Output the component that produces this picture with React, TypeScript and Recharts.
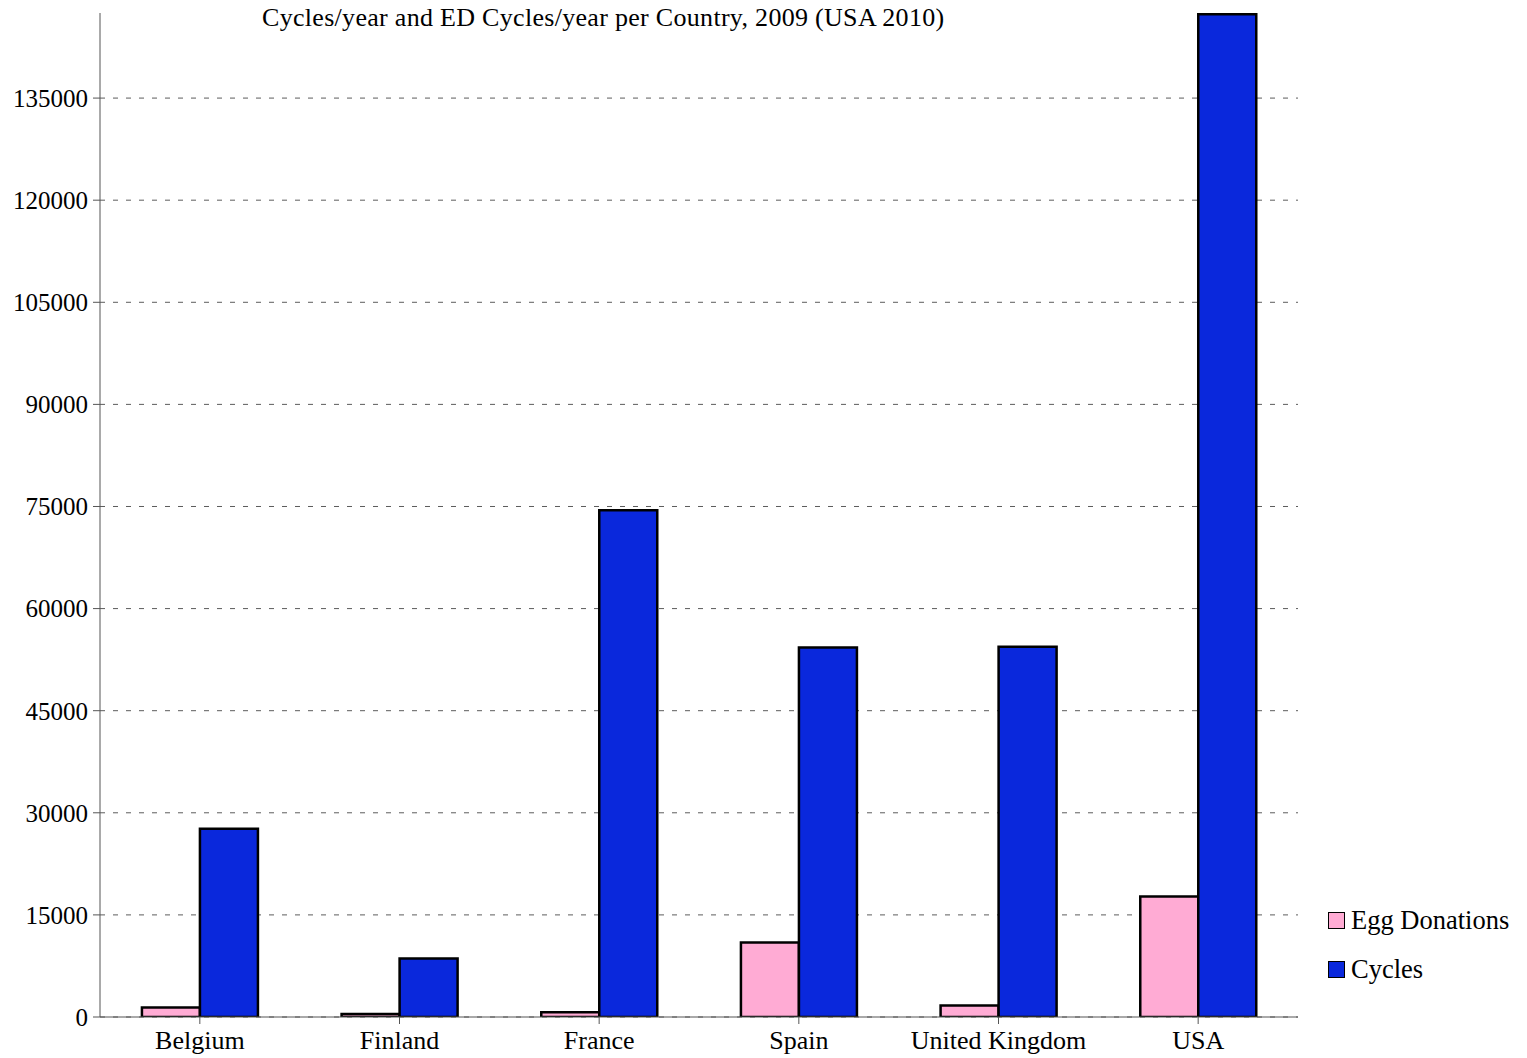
import { BarChart, Bar, XAxis, YAxis, CartesianGrid } from "recharts";

const countries = ["Belgium", "Finland", "France", "Spain", "United Kingdom", "USA"];
const eggDonations = [1400, 450, 700, 10950, 1700, 17700];
const cycles = [27650, 8600, 74450, 54300, 54400, 147300];
const yTicks = [0, 15000, 30000, 45000, 60000, 75000, 90000, 105000, 120000, 135000];

const PINK = "#ffabd4";
const BLUE = "#0a28dc";
const FONT = "'Liberation Serif', 'DejaVu Serif', serif";

const rows = countries.map((country, i) => ({
  country,
  egg: eggDonations[i],
  cycles: cycles[i],
}));

const legendItems = [
  { label: "Egg Donations", color: PINK },
  { label: "Cycles", color: BLUE },
];

export default function App() {
  return (
    <div style={{ position: "absolute", left: 0, top: 0, width: 1527, height: 1058, background: "#fff" }}>
      <div
        style={{
          position: "absolute",
          left: 262,
          top: 3,
          fontFamily: FONT,
          fontSize: 26,
          letterSpacing: 0.3,
          color: "#000",
          whiteSpace: "nowrap",
          zIndex: 2,
        }}
      >
        Cycles/year and ED Cycles/year per Country, 2009 (USA 2010)
      </div>
      <div
        style={{
          position: "absolute",
          left: 1328,
          top: 896,
          fontFamily: FONT,
          fontSize: 26.5,
          color: "#000",
          zIndex: 2,
        }}
      >
        {legendItems.map((item) => (
          <div key={item.label} style={{ display: "flex", alignItems: "center", height: 49 }}>
            <span
              style={{
                display: "inline-block",
                width: 15,
                height: 15,
                background: item.color,
                border: "1px solid #000",
                marginRight: 6,
              }}
            />
            <span>{item.label}</span>
          </div>
        ))}
      </div>
      <BarChart
        width={1527}
        height={1058}
        data={rows}
        margin={{ top: 13, right: 229, bottom: 0, left: 0 }}
        barCategoryGap="21%"
        barGap={0}
      >
        {/* dashed guides only at the tick values, no frame at the top */}
        <CartesianGrid vertical={false} stroke="#5c5c5c" strokeDasharray="5 8" syncWithTicks />
        <XAxis
          dataKey="country"
          height={41}
          interval={0}
          axisLine={{ stroke: "#555" }}
          tickLine={{ stroke: "#555" }}
          tickSize={7}
          tickMargin={7}
          tick={{ fill: "#000", fontSize: 26, fontFamily: FONT }}
        />
        <YAxis
          width={100}
          domain={[0, 147500]}
          ticks={yTicks}
          allowDataOverflow
          axisLine={{ stroke: "#555" }}
          tickLine={{ stroke: "#555" }}
          tickSize={7}
          tickMargin={5}
          tick={{ fill: "#000", fontSize: 25, fontFamily: FONT }}
        />
        <Bar dataKey="egg" name="Egg Donations" fill={PINK} stroke="#000" strokeWidth={2.5} isAnimationActive={false} />
        <Bar dataKey="cycles" name="Cycles" fill={BLUE} stroke="#000" strokeWidth={2.5} isAnimationActive={false} />
      </BarChart>
    </div>
  );
}
